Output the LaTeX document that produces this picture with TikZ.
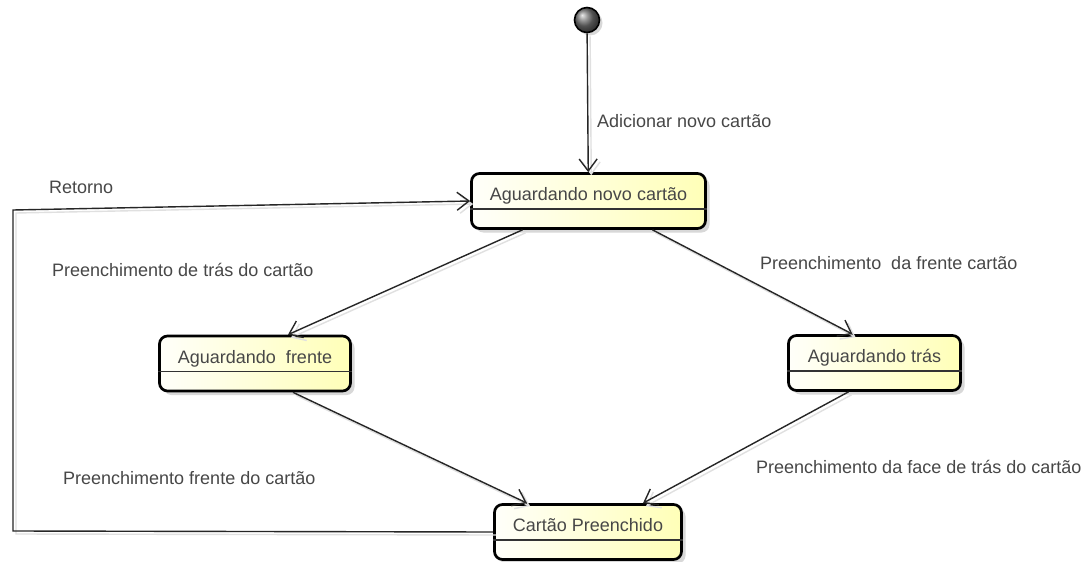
\documentclass[tikz,border=0pt]{standalone}
\usepackage{fontspec}
\setmainfont{Liberation Sans}
\usetikzlibrary{arrows.meta,shadows}
\begin{document}
\begin{tikzpicture}[x=1pt,y=-1pt,
  txt/.style={font=\fontsize{18}{21}\selectfont, text=black!72},
  state/.style={txt, draw=black, line width=2.7pt, rounded corners=8pt,
    left color=yellow!2, right color=yellow!28, minimum height=55pt,
    inner sep=0pt, text height=27pt, text depth=28pt,
    drop shadow={shadow xshift=4pt, shadow yshift=-4pt, fill=black!30, opacity=0.5}},
  divider/.style={draw=black!80, line width=1.5pt},
  edge/.style={draw=black!85, line width=1.4pt, -{Straight Barb[length=12pt,width=18pt]},
    preaction={draw=black!12, line width=1.4pt, transform canvas={xshift=3pt,yshift=-3pt}}},
  lbl/.style={txt, inner sep=0pt, anchor=west}
]
\useasboundingbox[fill=white] (0,0) rectangle (1087,562);

% initial state
\node[circle, draw=black, line width=1.6pt, minimum size=25pt, inner sep=0pt,
  ball color=black!55,
  drop shadow={shadow xshift=3pt, shadow yshift=-3pt, fill=black!30, opacity=0.5}] (init) at (587,20) {};

% states
\node[state, minimum width=234pt] (top) at (588.5,201) {Aguardando novo cartão};
\node[state, minimum width=191pt] (frente) at (255,363.5) {Aguardando\ \ frente};
\node[state, minimum width=172pt] (tras) at (874.5,363) {Aguardando trás};
\node[state, minimum width=187pt] (cartao) at (588,532) {Cartão Preenchido};

\foreach \n in {top,frente,tras,cartao}{
  \draw[divider] ([yshift=-37pt]\n.north west) -- ([yshift=-37pt]\n.north east);
}

% connectors
\draw[edge] (init) -- (top);
\draw[edge] ([xshift=-66pt]top.south) -- ([xshift=33pt]frente.north);
\draw[edge] ([xshift=64pt]top.south) -- ([xshift=-22pt]tras.north);
\draw[edge] ([xshift=38pt]frente.south) -- ([xshift=-61pt]cartao.north);
\draw[edge] ([xshift=-26pt]tras.south) -- ([xshift=55pt]cartao.north);
\coordinate (rb) at (13,531);
\coordinate (rt) at (13,210);
\draw[edge] (cartao.west) -- (rb) -- (rt) -- (top.west);

% labels
\node[lbl] (l1) at (597,121) {Adicionar novo cartão};
\node[lbl] (l2) at (49,187) {Retorno};
\node[lbl] (l3) at (52,270) {Preenchimento de trás do cartão};
\node[lbl] (l4) at (760,263) {Preenchimento\ \ da frente cartão};
\node[lbl] (l5) at (63,478) {Preenchimento frente do cartão};
\node[lbl] (l6) at (756,467) {Preenchimento da face de trás do cartão};
\end{tikzpicture}
\end{document}
